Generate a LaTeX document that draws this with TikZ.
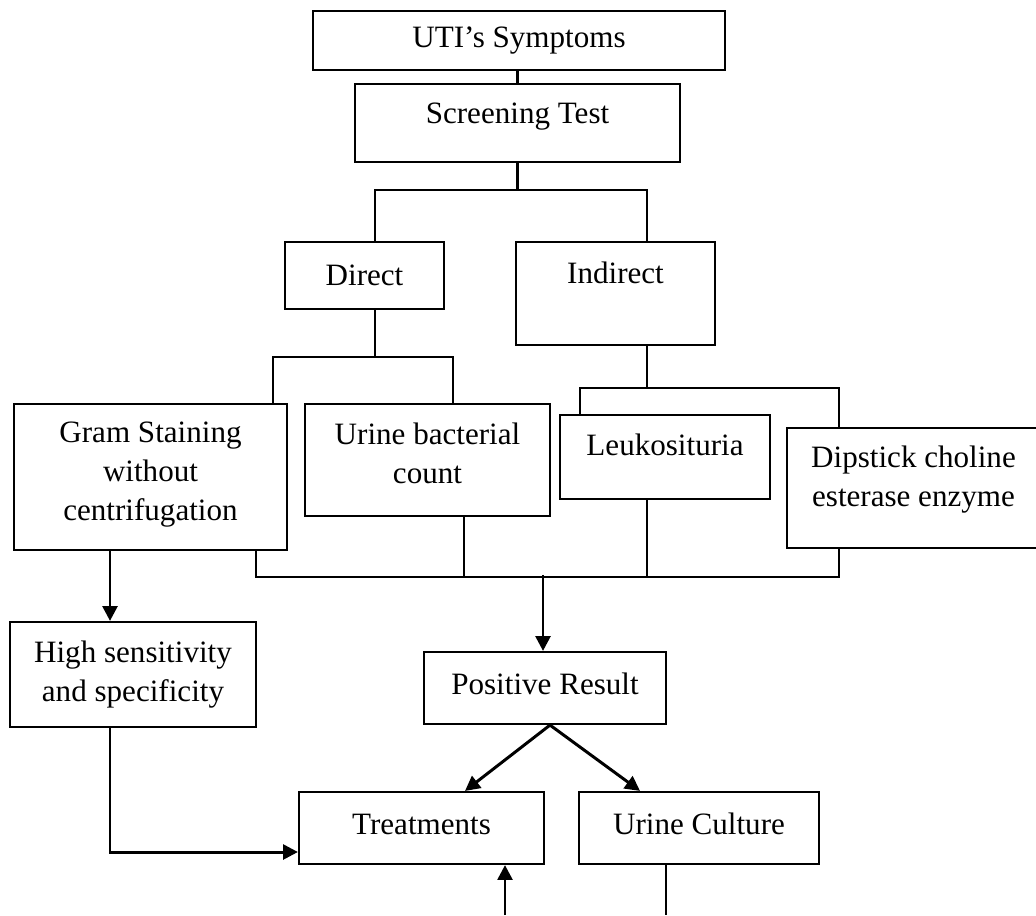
\documentclass[tikz,border=0pt]{standalone}
\usepackage{fontspec}
\setmainfont{Liberation Serif}
\usetikzlibrary{positioning, calc, arrows.meta}
\tikzset{
    box/.style={
        rectangle,
        draw=black,
        line width=0.8pt,
        align=center,
        inner sep=0pt,
        font=\fontsize{11.5}{14.4}\selectfont
    },
    dims/.style 2 args={
        minimum width=#1*0.37pt,
        minimum height=#2*0.37pt
    },
    lift/.style={text depth=#1*0.74pt},
    link/.style={line width=0.8pt},
    flow/.style={
        -{Triangle[length=5.5pt, width=5.5pt]},
        line width=1.1pt
    }
}
\begin{document}
\begin{tikzpicture}[x=0.37pt, y=-0.37pt]
    \clip (0,0) rectangle (1036,915);

    % Top of the chart
    \node[box, dims={412}{59}] (sym) at (519,40.5) {UTI’s Symptoms};
    \node[box, dims={325}{78}, lift=10] (scr) at (517.5,123) {Screening Test};
    \draw[link] (scr.north) -- (scr.north |- sym.south);

    % Test types
    \node[box, dims={159}{67}] (dir) at (364.5,275.5) {Direct};
    \node[box, dims={199}{103}, lift=21] (ind) at (615.5,293.5) {Indirect};
    \draw[link] (scr.south) -- ++(0,27) coordinate (t1);
    \draw[link] ($(dir.north)+(10.5,0)$) |- (t1) -| ($(ind.north)+(31.5,0)$);

    % Direct methods
    \node[box, dims={273}{146}, lift=6] (gram) at (150.5,477) {Gram Staining\\without\\centrifugation};
    \node[box, dims={245}{112}, lift=7] (ubc) at (427.5,460) {Urine bacterial\\count};
    \draw[link] ($(dir.south)+(10.5,0)$) -- ++(0,47) coordinate (t2);
    \draw[link] ($(gram.north)+(122.5,0)$) |- (t2) -| ($(ubc.north)+(25.5,0)$);

    % Indirect methods
    \node[box, dims={210}{84}, lift=12] (leu) at (665,457) {Leukosituria};
    \node[box, dims={253}{120}, lift=12] (dip) at (913.5,488) {Dipstick choline\\esterase enzyme};
    \draw[link] ($(ind.south)+(31.5,0)$) -- ++(0,42) coordinate (t3);
    \draw[link] ($(leu.north)+(-85,0)$) |- (t3) -| ($(dip.north)+(-74.5,0)$);

    % Collecting line
    \draw[link] ($(gram.south)+(105.5,0)$) |- ($(dip.south)+(-74.5,28)$) -- ($(dip.south)+(-74.5,0)$);
    \draw[link] ($(ubc.south)+(36.5,0)$) -- ++(0,60);
    \draw[link] ($(leu.south)+(-18,0)$) -- ++(0,77);

    % Results
    \node[box, dims={246}{105}] (high) at (133,674.5) {High sensitivity\\and specificity};
    \node[box, dims={242}{72}, lift=4] (pos) at (545,688) {Positive Result};
    \node[box, dims={245}{72}, lift=4] (treat) at (421.5,828) {Treatments};
    \node[box, dims={240}{72}, lift=4] (cult) at (699,828) {Urine Culture};

    \draw[flow] ($(gram.south)+(-40.5,0)$) -- ($(high.north)+(-23,0)$);
    \draw[flow] ($(pos.north)+(-2,-76)$) -- ($(pos.north)+(-2,0)$);
    \draw[flow] ($(high.south)+(-23,0)$) |- ($(treat.west)+(0,24)$);
    \draw[flow] ($(pos.south)+(5,0)$) -- ($(treat.north)+(43.5,0)$);
    \draw[flow] ($(pos.south)+(5,0)$) -- ($(cult.north)+(-59,0)$);

    % Loose ends at the bottom
    \coordinate (inT) at (505,915);
    \coordinate (outC) at (666,915);
    \draw[flow] (inT) -- (treat.south -| inT);
    \draw[link] (cult.south -| outC) -- (outC);
\end{tikzpicture}
\end{document}
